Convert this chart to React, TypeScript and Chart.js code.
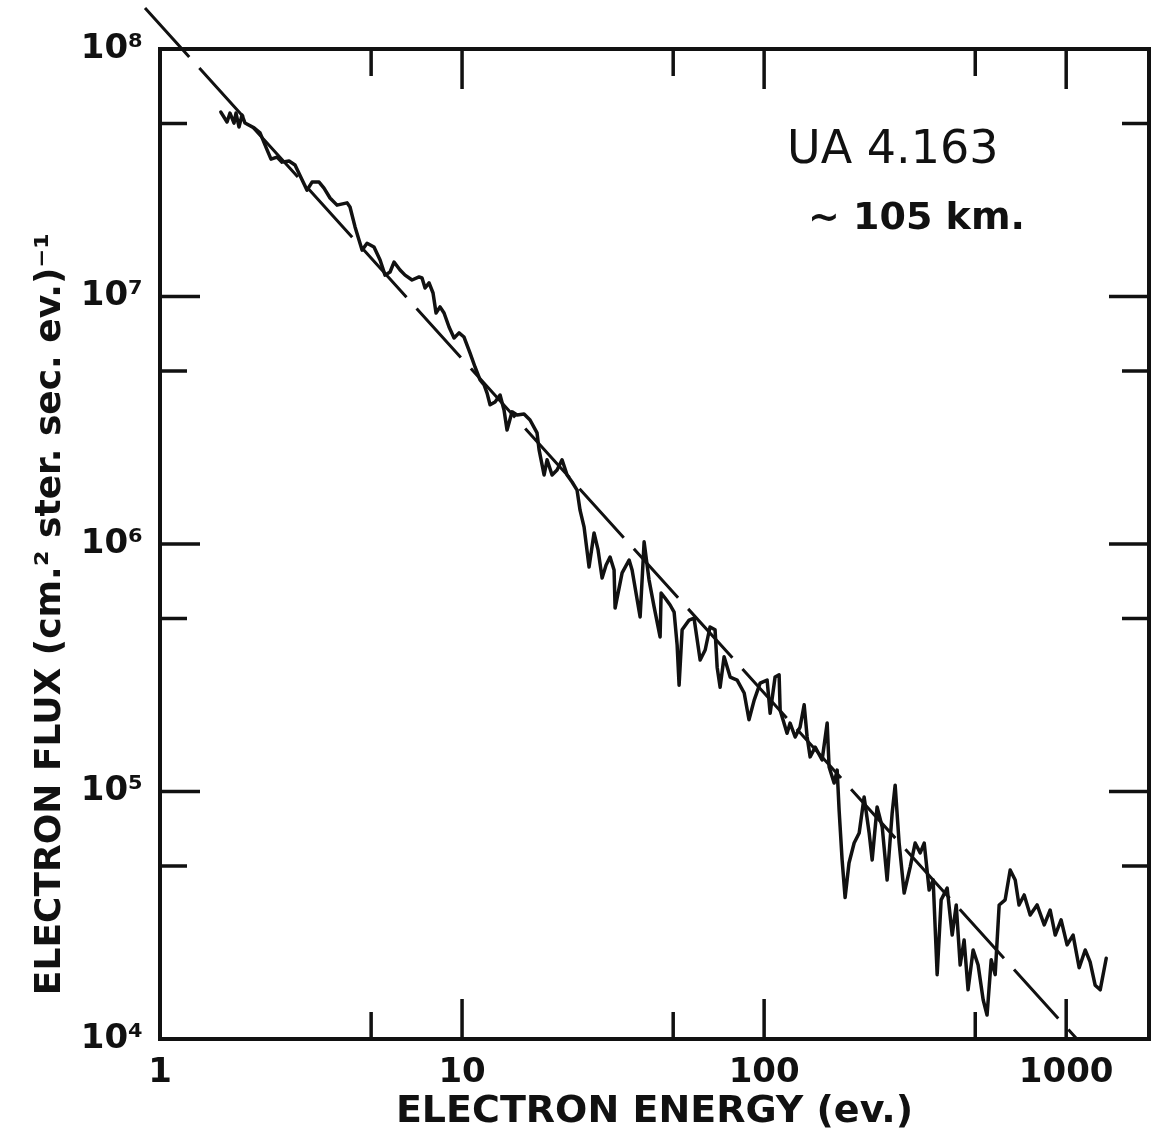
import React, { useEffect, useRef } from 'react';
import { Chart, registerables } from 'chart.js';

Chart.register(...registerables);

// Measured differential electron flux vs. energy (UA 4.163, ~105 km)
const energyEv = [
  1.59, 1.667, 1.705, 1.758, 1.785, 1.826, 1.869, 1.912, 2.048, 2.144,
  2.262, 2.331, 2.44, 2.535, 2.674, 2.799, 2.953, 3.067, 3.186, 3.362,
  3.491, 3.655, 3.855, 4.16, 4.256, 4.423, 4.666, 4.847, 5.11, 5.353,
  5.559, 5.776, 5.954, 6.233, 6.476, 6.83, 7.204, 7.37, 7.543, 7.776,
  8.015, 8.201, 8.455, 8.717, 9.055, 9.408, 9.772, 10.15, 10.63, 11.04,
  11.47, 11.83, 12.1, 12.38, 12.86, 13.36, 13.77, 14.09, 14.64, 15.21,
  16.04, 16.79, 17.71, 17.99, 18.69, 19.12, 19.86, 20.63, 21.43, 22.27,
  23.13, 24.03, 24.58, 25.35, 26.33, 27.35, 28.2, 29.08, 29.98, 30.9,
  31.86, 32.11, 33.87, 35.73, 36.55, 38.86, 40.06, 41.6, 43.23, 45.25,
  45.6, 46.99, 48.84, 50.35, 51.52, 52.3, 53.52, 56.46, 58.6, 61.4,
  63.8, 66.2, 68.8, 69.9, 71.5, 73.7, 77.2, 81.4, 85.9, 89.1,
  92.7, 97.0, 102.3, 104.7, 108.7, 112.1, 113.0, 119.1, 121.9, 126.7,
  131.5, 135.7, 138.8, 142.0, 147.6, 155.6, 161.7, 164.1, 170.5, 174.5,
  177.1, 181.2, 185.4, 191.0, 198.6, 206.4, 214.3, 222.7, 227.9, 236.6,
  246.0, 255.4, 265.4, 271.5, 279.9, 290.8, 304.4, 316.2, 328.6, 338.8,
  351.8, 362.7, 374, 385.5, 403.6, 419.4, 432.5, 445.7, 459.3, 473.3,
  492, 511, 531, 547, 564.6, 582, 600, 628, 652.5, 678,
  698, 726, 760, 801, 846, 885, 920, 962, 1007, 1054,
  1104, 1156, 1200, 1247, 1296, 1357,
];

const fluxMeasured = [
  5.56e7, 5.07e7, 5.51e7, 5.02e7, 5.51e7, 4.84e7, 5.41e7, 5.02e7, 4.8e7, 4.58e7,
  3.91e7, 3.59e7, 3.66e7, 3.49e7, 3.53e7, 3.4e7, 2.96e7, 2.69e7, 2.9e7, 2.9e7,
  2.74e7, 2.5e7, 2.34e7, 2.39e7, 2.3e7, 1.91e7, 1.54e7, 1.64e7, 1.585e7, 1.405e7,
  1.22e7, 1.256e7, 1.378e7, 1.28e7, 1.22e7, 1.166e7, 1.2e7, 1.188e7, 1.082e7, 1.135e7,
  1.033e7, 8.58e6, 9.08e6, 8.58e6, 7.53e6, 6.8e6, 7.13e6, 6.86e6, 5.91e6, 5.19e6,
  4.6e6, 4.39e6, 4.07e6, 3.65e6, 3.75e6, 4.0e6, 3.48e6, 2.89e6, 3.42e6, 3.32e6,
  3.35e6, 3.17e6, 2.81e6, 2.4e6, 1.9e6, 2.19e6, 1.9e6, 1.99e6, 2.19e6, 1.9e6,
  1.78e6, 1.65e6, 1.37e6, 1.17e6, 8.08e5, 1.108e6, 9.46e5, 7.29e5, 8.23e5, 8.86e5,
  7.85e5, 5.51e5, 7.64e5, 8.62e5, 7.85e5, 5.07e5, 1.02e6, 7.15e5, 5.57e5, 4.21e5,
  6.34e5, 6.05e5, 5.67e5, 5.31e5, 3.91e5, 2.69e5, 4.5e5, 4.93e5, 5.02e5, 3.4e5,
  3.73e5, 4.62e5, 4.5e5, 3.18e5, 2.64e5, 3.5e5, 2.9e5, 2.82e5, 2.5e5, 1.95e5,
  2.34e5, 2.74e5, 2.82e5, 2.07e5, 2.9e5, 2.96e5, 2.13e5, 1.72e5, 1.89e5, 1.66e5,
  1.82e5, 2.24e5, 1.66e5, 1.38e5, 1.51e5, 1.34e5, 1.89e5, 1.256e5, 1.082e5, 1.22e5,
  8.42e4, 5.29e4, 3.73e4, 5.14e4, 6.19e4, 6.8e4, 9.51e4, 6.8e4, 5.29e4, 8.66e4,
  7.19e4, 4.39e4, 8.19e4, 1.06e5, 6.19e4, 3.89e4, 4.95e4, 6.19e4, 5.65e4, 6.19e4,
  4.0e4, 4.39e4, 1.82e4, 3.65e4, 4.07e4, 2.63e4, 3.48e4, 1.99e4, 2.51e4, 1.58e4,
  2.29e4, 1.99e4, 1.44e4, 1.25e4, 2.09e4, 1.82e4, 3.48e4, 3.65e4, 4.82e4, 4.39e4,
  3.48e4, 3.82e4, 3.17e4, 3.48e4, 2.89e4, 3.32e4, 2.63e4, 3.03e4, 2.4e4, 2.63e4,
  1.94e4, 2.29e4, 2.05e4, 1.65e4, 1.58e4, 2.12e4,
];

// Power-law fit (dashed), end points
const fitEnergy = [0.892, 1085];
const fitFlux = [1.465e8, 1.0e4];

const xTickValues = [1, 10, 100, 1000];
const xTickLabels = ['1', '10', '100', '1000'];
const yTickValues = [1e4, 1e5, 1e6, 1e7, 1e8];
const yTickLabels = ['10⁴', '10⁵', '10⁶', '10⁷', '10⁸'];

const xMajorMarks = [10, 100, 1000];
const xMinorMarks = [5, 50, 500];
const yMajorMarks = [1e5, 1e6, 1e7];
const yMinorMarks = [5e4, 5e5, 5e6, 5e7];

const xTitle = 'ELECTRON ENERGY (ev.)';
const yTitle = 'ELECTRON FLUX (cm.² ster. sec. ev.)⁻¹';
const flightLabel = 'UA 4.163';
const altitudeLabel = '~ 105 km.';

const ink = '#111111';
const family = '"DejaVu Sans", "Liberation Sans", Arial, sans-serif';

const frameAndMarks = {
  id: 'frameAndMarks',
  afterDatasetsDraw(chart: any) {
    const { ctx, chartArea: a, scales } = chart;
    const xs = scales.x;
    const ys = scales.y;
    ctx.save();
    ctx.strokeStyle = ink;
    ctx.fillStyle = ink;
    ctx.lineCap = 'butt';

    const vMark = (v: number, len: number) => {
      const px = xs.getPixelForValue(v);
      ctx.beginPath();
      ctx.moveTo(px, a.bottom);
      ctx.lineTo(px, a.bottom - len);
      ctx.moveTo(px, a.top);
      ctx.lineTo(px, a.top + len);
      ctx.stroke();
    };
    const hMark = (v: number, len: number) => {
      const py = ys.getPixelForValue(v);
      ctx.beginPath();
      ctx.moveTo(a.left, py);
      ctx.lineTo(a.left + len, py);
      ctx.moveTo(a.right, py);
      ctx.lineTo(a.right - len, py);
      ctx.stroke();
    };
    ctx.lineWidth = 3.5;
    xMajorMarks.forEach((v) => vMark(v, 40));
    xMinorMarks.forEach((v) => vMark(v, 27));
    yMajorMarks.forEach((v) => hMark(v, 40));
    yMinorMarks.forEach((v) => hMark(v, 27));

    ctx.lineWidth = 4;
    ctx.strokeRect(a.left, a.top, a.right - a.left, a.bottom - a.top);

    // vertical axis title
    ctx.save();
    ctx.translate(60, 614);
    ctx.rotate(-Math.PI / 2);
    ctx.font = `bold 36px ${family}`;
    ctx.textAlign = 'center';
    ctx.textBaseline = 'alphabetic';
    ctx.fillText(yTitle, 0, 0);
    ctx.restore();

    // flight / altitude annotation
    ctx.textAlign = 'left';
    ctx.textBaseline = 'alphabetic';
    ctx.font = `46px ${family}`;
    ctx.fillText(flightLabel, 787, 163);
    ctx.font = `bold 38px ${family}`;
    ctx.fillText(altitudeLabel, 808, 229);
    ctx.restore();
  },
};

export default function App() {
  const canvasRef = useRef<HTMLCanvasElement | null>(null);

  useEffect(() => {
    const canvas = canvasRef.current;
    if (!canvas) return;

    const measured = energyEv.map((e, i) => ({ x: e, y: fluxMeasured[i] }));
    const fit = fitEnergy.map((e, i) => ({ x: e, y: fitFlux[i] }));

    const chart = new Chart(canvas, {
      type: 'line',
      data: {
        datasets: [
          {
            data: fit,
            borderColor: ink,
            borderWidth: 3,
            borderDash: [66, 15],
            pointRadius: 0,
            tension: 0,
            clip: false as any,
          },
          {
            data: measured,
            borderColor: ink,
            borderWidth: 3.5,
            borderJoinStyle: 'round',
            borderCapStyle: 'round',
            pointRadius: 0,
            tension: 0,
          },
        ],
      },
      options: {
        animation: false,
        responsive: false,
        maintainAspectRatio: false,
        layout: { padding: { top: 49, right: 7, left: 0, bottom: 0 } },
        plugins: {
          legend: { display: false },
          tooltip: { enabled: false },
        },
        scales: {
          x: {
            type: 'logarithmic',
            min: 1,
            max: 1880,
            afterBuildTicks: (s: any) => {
              s.ticks = xTickValues.map((v) => ({ value: v }));
            },
            afterFit: (s: any) => {
              s.height = 102;
            },
            grid: { display: false, drawTicks: false },
            border: { display: false },
            ticks: {
              autoSkip: false,
              maxRotation: 0,
              padding: 14,
              color: ink,
              font: { family, size: 34, weight: 'bold' },
              callback: (v: any) => {
                const i = xTickValues.indexOf(Number(v));
                return i >= 0 ? xTickLabels[i] : '';
              },
            },
            title: {
              display: true,
              text: xTitle,
              color: ink,
              font: { family, size: 38, weight: 'bold' },
              padding: { top: 0, bottom: 6 },
            },
          },
          y: {
            type: 'logarithmic',
            min: 1e4,
            max: 1e8,
            afterBuildTicks: (s: any) => {
              s.ticks = yTickValues.map((v) => ({ value: v }));
            },
            afterFit: (s: any) => {
              s.width = 160;
            },
            grid: { display: false, drawTicks: false },
            border: { display: false },
            ticks: {
              autoSkip: false,
              padding: 17,
              color: ink,
              font: { family, size: 34, weight: 'bold' },
              callback: (v: any) => {
                const i = yTickValues.indexOf(Number(v));
                return i >= 0 ? yTickLabels[i] : '';
              },
            },
          },
        },
      },
      plugins: [frameAndMarks],
    } as any);

    return () => chart.destroy();
  }, []);

  return (
    <div style={{ position: 'absolute', left: 0, top: 0, width: 1156, height: 1141, background: '#fff' }}>
      <canvas ref={canvasRef} width={1156} height={1141} />
    </div>
  );
}
